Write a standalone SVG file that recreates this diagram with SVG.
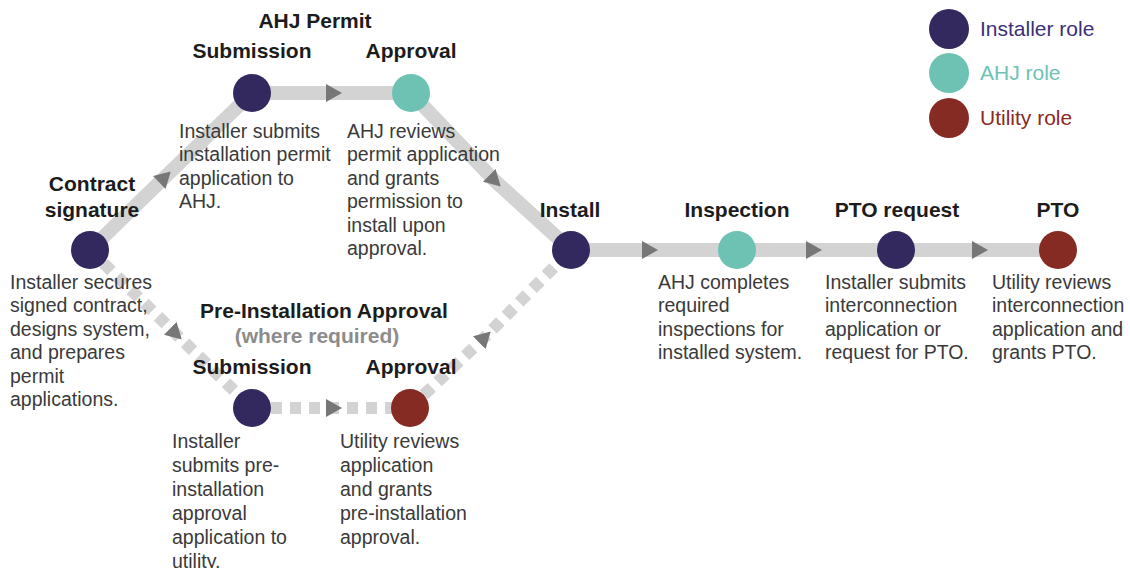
<svg xmlns="http://www.w3.org/2000/svg" width="1130" height="568" viewBox="0 0 1130 568">
  <style>
    .track { fill: none; stroke: #d3d3d3; stroke-width: 14; }
    .dash { fill: none; stroke: #d3d3d3; stroke-width: 12; stroke-dasharray: 11 8; }
    .installer { fill: #33295f; }
    .ahj { fill: #6dc2b3; }
    .utility { fill: #862a24; }
    .head { font-family: "Liberation Sans", Arial, sans-serif; font-weight: bold; font-size: 21px; fill: #1c1c1c; text-anchor: middle; }
    .note { font-family: "Liberation Sans", Arial, sans-serif; font-weight: bold; font-size: 21px; fill: #8c8c8c; text-anchor: middle; }
    .body { font-family: "Liberation Sans", Arial, sans-serif; font-size: 19.5px; fill: #3a3a3a; }
    .legend { font-family: "Liberation Sans", Arial, sans-serif; font-size: 21px; }
  </style>
  <defs>
    <marker id="arrow" markerUnits="userSpaceOnUse" markerWidth="20" markerHeight="20" refX="8" refY="9" orient="auto">
      <path d="M0,0 L16,9 L0,18 Z" fill="#777777"/>
    </marker>
  </defs>
  <rect width="1130" height="568" fill="#ffffff"/>

  <!-- connectors -->
  <g id="connectors">
    <path class="track" d="M90,250 L165,177 L252,93" marker-mid="url(#arrow)"/>
    <path class="track" d="M252,93 L334,93 L411,93" marker-mid="url(#arrow)"/>
    <path class="track" d="M411,93 L495,181 L571,250" marker-mid="url(#arrow)"/>
    <path class="track" d="M571,250 L650,250 L737,250" marker-mid="url(#arrow)"/>
    <path class="track" d="M737,250 L814,250 L896,250" marker-mid="url(#arrow)"/>
    <path class="track" d="M896,250 L980,250 L1058,250" marker-mid="url(#arrow)"/>
    <path class="dash" d="M90,250 L176,334 L252,408" marker-mid="url(#arrow)"/>
    <path class="dash" d="M252,408 L334,408 L410,408" marker-mid="url(#arrow)"/>
    <path class="dash" d="M410,408 L485,337 L571,250" marker-mid="url(#arrow)"/>
  </g>

  <!-- legend -->
  <g id="legend">
    <circle class="installer" cx="949" cy="29" r="20"/>
    <text class="legend" x="980" y="36" fill="#3b2f78">Installer role</text>
    <circle class="ahj" cx="949" cy="73" r="20"/>
    <text class="legend" x="980" y="80" fill="#6dc2b3">AHJ role</text>
    <circle class="utility" cx="949" cy="118" r="20"/>
    <text class="legend" x="980" y="125" fill="#8a2a22">Utility role</text>
  </g>

  <g id="contract-signature">
    <text class="head" x="92" y="191">Contract</text>
    <text class="head" x="92" y="217">signature</text>
    <circle class="installer" cx="90" cy="250" r="19"/>
    <text class="body" x="10" y="289">Installer secures</text>
    <text class="body" x="10" y="312">signed contract,</text>
    <text class="body" x="10" y="336">designs system,</text>
    <text class="body" x="10" y="359">and prepares</text>
    <text class="body" x="10" y="383">permit</text>
    <text class="body" x="10" y="406">applications.</text>
  </g>

  <g id="ahj-permit-title">
    <text class="head" x="315" y="28">AHJ Permit</text>
  </g>

  <g id="permit-submission">
    <text class="head" x="252" y="58">Submission</text>
    <circle class="installer" cx="252" cy="93" r="19"/>
    <text class="body" x="179" y="138">Installer submits</text>
    <text class="body" x="179" y="161">installation permit</text>
    <text class="body" x="179" y="185">application to</text>
    <text class="body" x="179" y="208">AHJ.</text>
  </g>

  <g id="permit-approval">
    <text class="head" x="411" y="58">Approval</text>
    <circle class="ahj" cx="411" cy="93" r="19"/>
    <text class="body" x="347" y="138">AHJ reviews</text>
    <text class="body" x="347" y="161">permit application</text>
    <text class="body" x="347" y="185">and grants</text>
    <text class="body" x="347" y="208">permission to</text>
    <text class="body" x="347" y="232">install upon</text>
    <text class="body" x="347" y="255">approval.</text>
  </g>

  <g id="pre-installation-title">
    <text class="head" x="324" y="318">Pre-Installation Approval</text>
    <text class="note" x="317" y="343">(where required)</text>
  </g>

  <g id="pre-submission">
    <text class="head" x="252" y="374">Submission</text>
    <circle class="installer" cx="252" cy="408" r="19"/>
    <text class="body" x="172" y="448">Installer</text>
    <text class="body" x="172" y="472">submits pre-</text>
    <text class="body" x="172" y="496">installation</text>
    <text class="body" x="172" y="520">approval</text>
    <text class="body" x="172" y="544">application to</text>
    <text class="body" x="172" y="568">utility.</text>
  </g>

  <g id="pre-approval">
    <text class="head" x="411" y="374">Approval</text>
    <circle class="utility" cx="410" cy="408" r="19"/>
    <text class="body" x="340" y="448">Utility reviews</text>
    <text class="body" x="340" y="472">application</text>
    <text class="body" x="340" y="496">and grants</text>
    <text class="body" x="340" y="520">pre-installation</text>
    <text class="body" x="340" y="544">approval.</text>
  </g>

  <g id="install">
    <text class="head" x="570" y="217">Install</text>
    <circle class="installer" cx="571" cy="250" r="19"/>
  </g>

  <g id="inspection">
    <text class="head" x="737" y="217">Inspection</text>
    <circle class="ahj" cx="737" cy="250" r="19"/>
    <text class="body" x="658" y="289">AHJ completes</text>
    <text class="body" x="658" y="312">required</text>
    <text class="body" x="658" y="336">inspections for</text>
    <text class="body" x="658" y="359">installed system.</text>
  </g>

  <g id="pto-request">
    <text class="head" x="897" y="217">PTO request</text>
    <circle class="installer" cx="896" cy="250" r="19"/>
    <text class="body" x="825" y="289">Installer submits</text>
    <text class="body" x="825" y="312">interconnection</text>
    <text class="body" x="825" y="336">application or</text>
    <text class="body" x="825" y="359">request for PTO.</text>
  </g>

  <g id="pto">
    <text class="head" x="1058" y="217">PTO</text>
    <circle class="utility" cx="1058" cy="250" r="19"/>
    <text class="body" x="992" y="289">Utility reviews</text>
    <text class="body" x="992" y="312">interconnection</text>
    <text class="body" x="992" y="336">application and</text>
    <text class="body" x="992" y="359">grants PTO.</text>
  </g>
</svg>
